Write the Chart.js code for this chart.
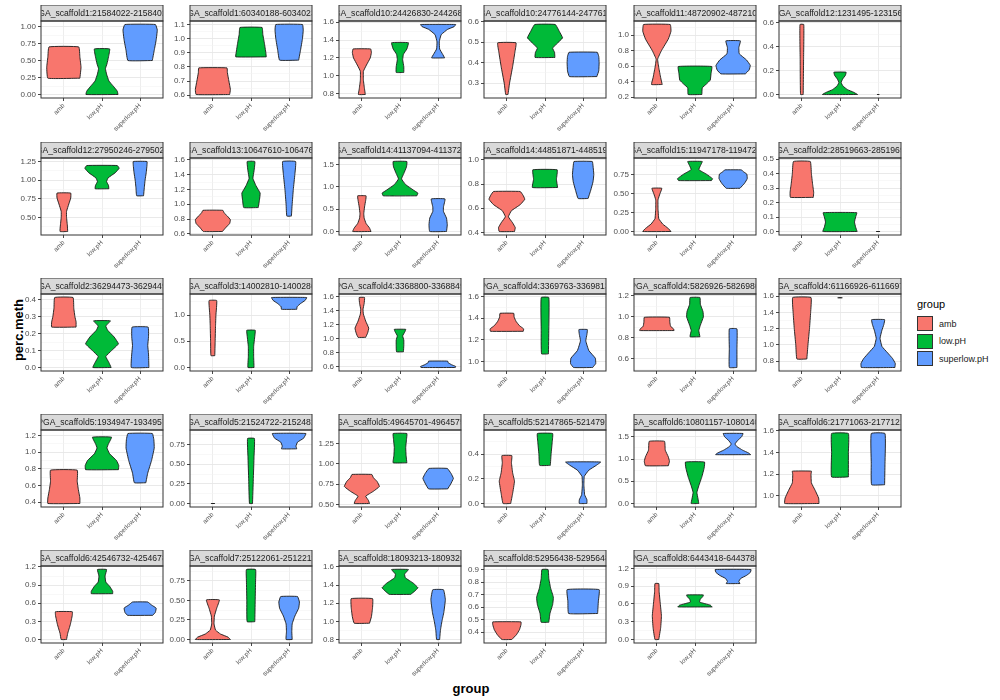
<!DOCTYPE html>
<html>
<head>
<meta charset="utf-8">
<script src="https://cdn.jsdelivr.net/npm/chart.js@4.4.1/dist/chart.umd.min.js"></script>
<style>
  body { margin: 0; background: #fff; font-family: "Liberation Sans", Arial, sans-serif; }
  #wrap { position: relative; width: 1000px; height: 700px; }
  canvas.panel { position: absolute; }
  .ytitle { position: absolute; left: 18px; top: 330px; transform: translate(-50%, -50%) rotate(-90deg); font-weight: bold; font-size: 13px; color: #000; white-space: nowrap; }
  .xtitle { position: absolute; left: 471px; top: 688px; transform: translate(-50%, -50%); font-weight: bold; font-size: 13px; color: #000; }
  .legend { position: absolute; left: 917px; top: 298px; font-size: 9px; color: #1a1a1a; }
  .legend .title { font-size: 11px; margin-bottom: 5px; color: #000; }
  .legend .row { display: flex; align-items: center; height: 17.5px; }
  .legend .key { width: 16px; height: 15px; border: 1px solid #333; box-sizing: border-box; margin-right: 6px; }
</style>
</head>
<body>
<div id="wrap">
  <div class="ytitle">perc.meth</div>
  <div class="xtitle">group</div>
  <div class="legend" id="legend"><div class="title">group</div></div>
</div>
<script>
const groups = ['amb', 'low.pH', 'superlow.pH'];

const panelTitles = [
    'PGA_scaffold1:21584022-21584024', 'PGA_scaffold1:60340188-60340238', 'PGA_scaffold10:24426830-24426880',
    'PGA_scaffold10:24776144-24776194', 'PGA_scaffold11:48720902-48721002', 'PGA_scaffold12:1231495-1231565',
    'PGA_scaffold12:27950246-27950296', 'PGA_scaffold13:10647610-10647660', 'PGA_scaffold14:41137094-41137200',
    'PGA_scaffold14:44851871-44851921', 'PGA_scaffold15:11947178-11947228', 'PGA_scaffold2:28519663-28519699',
    'PGA_scaffold2:36294473-36294490', 'PGA_scaffold3:14002810-14002860', 'PGA_scaffold4:3368800-3368849',
    'PGA_scaffold4:3369763-3369813', 'PGA_scaffold4:5826926-5826980', 'PGA_scaffold4:61166926-61166976',
    'PGA_scaffold5:1934947-1934957', 'PGA_scaffold5:21524722-21524822', 'PGA_scaffold5:49645701-49645751',
    'PGA_scaffold5:52147865-52147915', 'PGA_scaffold6:10801157-10801407', 'PGA_scaffold6:21771063-21771213',
    'PGA_scaffold6:42546732-42546782', 'PGA_scaffold7:25122061-25122111', 'PGA_scaffold8:18093213-18093263',
    'PGA_scaffold8:52956438-52956488', 'PGA_scaffold8:6443418-6443780'
];

const panelTicks = [
    ['0.00', '0.25', '0.50', '0.75', '1.00'], ['0.6', '0.7', '0.8', '0.9', '1.0', '1.1'], ['0.8', '1.0', '1.2', '1.4', '1.6'],
    ['0.3', '0.4', '0.5', '0.6'], ['0.2', '0.4', '0.6', '0.8', '1.0'], ['0.0', '0.2', '0.4', '0.6'],
    ['0.50', '0.75', '1.00', '1.25'], ['0.6', '0.8', '1.0', '1.2', '1.4', '1.6'], ['0.0', '0.5', '1.0', '1.5'],
    ['0.4', '0.6', '0.8', '1.0'], ['0.00', '0.25', '0.50', '0.75'], ['0.0', '0.1', '0.2', '0.3', '0.4', '0.5'],
    ['0.0', '0.1', '0.2', '0.3', '0.4'], ['0.0', '0.5', '1.0'], ['0.6', '0.8', '1.0', '1.2', '1.4', '1.6'],
    ['1.0', '1.2', '1.4', '1.6'], ['0.6', '0.8', '1.0', '1.2'], ['0.8', '1.0', '1.2', '1.4', '1.6'],
    ['0.4', '0.6', '0.8', '1.0', '1.2'], ['0.00', '0.25', '0.50', '0.75'], ['0.50', '0.75', '1.00', '1.25'],
    ['0.0', '0.2', '0.4'], ['0.0', '0.5', '1.0', '1.5'], ['1.0', '1.2', '1.4', '1.6'],
    ['0.0', '0.3', '0.6', '0.9', '1.2'], ['0.00', '0.25', '0.50', '0.75'], ['0.8', '1.0', '1.2', '1.4', '1.6'],
    ['0.4', '0.5', '0.6', '0.7', '0.8', '0.9'], ['0.0', '0.3', '0.6', '0.9', '1.2']
];

// violin outlines: [perc.meth, half width in category units], bottom to top
const ambProfiles = [
    [[0.24, 0.42], [0.4, 0.45], [0.55, 0.42], [0.70, 0.39]],
    [[0.605, 0.44], [0.64, 0.46], [0.7, 0.42], [0.76, 0.38], [0.793, 0.37]],
    [[0.79, 0.09], [0.85, 0.07], [0.95, 0.04], [1.05, 0.04], [1.12, 0.12], [1.2, 0.22], [1.26, 0.25], [1.30, 0.23]],
    [[0.245, 0.03], [0.3, 0.07], [0.38, 0.15], [0.45, 0.21], [0.496, 0.24]],
    [[0.363, 0.14], [0.45, 0.1], [0.58, 0.05], [0.69, 0.02], [0.8, 0.12], [0.95, 0.3], [1.05, 0.37], [1.137, 0.35]],
    [[0, 0.035], [0.3, 0.045], [0.587, 0.05]],
    [[0.31, 0.1], [0.4, 0.09], [0.5, 0.07], [0.58, 0.07], [0.68, 0.13], [0.76, 0.18], [0.826, 0.18]],
    [[0.632, 0.25], [0.68, 0.33], [0.74, 0.44], [0.79, 0.46], [0.84, 0.38], [0.88, 0.3], [0.918, 0.26]],
    [[0, 0.24], [0.08, 0.2], [0.18, 0.11], [0.3, 0.06], [0.4, 0.05], [0.55, 0.07], [0.7, 0.1], [0.8, 0.11]],
    [[0.408, 0.2], [0.44, 0.22], [0.48, 0.15], [0.53, 0.04], [0.58, 0.12], [0.63, 0.35], [0.675, 0.47], [0.71, 0.42], [0.739, 0.35]],
    [[0, 0.37], [0.04, 0.3], [0.1, 0.15], [0.17, 0.05], [0.3, 0.03], [0.42, 0.03], [0.5, 0.08], [0.573, 0.13]],
    [[0.236, 0.3], [0.27, 0.31], [0.33, 0.28], [0.4, 0.25], [0.484, 0.22]],
    [[0.239, 0.32], [0.27, 0.32], [0.3, 0.29], [0.35, 0.26], [0.414, 0.24]],
    [[0.226, 0.05], [0.5, 0.06], [0.8, 0.07], [1.0, 0.08], [1.277, 0.1]],
    [[1.019, 0.1], [1.08, 0.15], [1.15, 0.18], [1.25, 0.1], [1.35, 0.04], [1.42, 0.03], [1.5, 0.06], [1.586, 0.07]],
    [[1.278, 0.43], [1.3, 0.44], [1.33, 0.33], [1.37, 0.24], [1.41, 0.19], [1.444, 0.18]],
    [[0.87, 0.45], [0.885, 0.44], [0.91, 0.36], [0.95, 0.34], [0.996, 0.33]],
    [[0.825, 0.13], [1.0, 0.16], [1.2, 0.2], [1.4, 0.23], [1.583, 0.24]],
    [[0.384, 0.42], [0.45, 0.42], [0.55, 0.38], [0.65, 0.35], [0.784, 0.35]],
    [[0, 0.05], [0, 0.05]],
    [[0.51, 0.2], [0.55, 0.17], [0.6, 0.1], [0.66, 0.3], [0.72, 0.46], [0.78, 0.4], [0.83, 0.3], [0.868, 0.26]],
    [[0, 0.1], [0.08, 0.15], [0.18, 0.2], [0.25, 0.15], [0.33, 0.12], [0.388, 0.13]],
    [[0.85, 0.3], [0.95, 0.33], [1.05, 0.3], [1.2, 0.22], [1.4, 0.2]],
    [[0.93, 0.45], [0.98, 0.44], [1.05, 0.35], [1.12, 0.25], [1.2, 0.24], [1.228, 0.25]],
    [[0, 0.07], [0.1, 0.1], [0.25, 0.17], [0.4, 0.22], [0.46, 0.22]],
    [[0, 0.46], [0.03, 0.4], [0.07, 0.2], [0.12, 0.07], [0.2, 0.03], [0.3, 0.04], [0.4, 0.1], [0.507, 0.17]],
    [[0.979, 0.2], [1.05, 0.25], [1.15, 0.28], [1.25, 0.28]],
    [[0.342, 0.13], [0.38, 0.25], [0.42, 0.33], [0.46, 0.37], [0.483, 0.37]],
    [[0, 0.05], [0.2, 0.1], [0.4, 0.12], [0.6, 0.09], [0.8, 0.06], [0.943, 0.05]]
];

const lowProfiles = [
    [[0, 0.42], [0.05, 0.40], [0.12, 0.3], [0.2, 0.18], [0.3, 0.12], [0.38, 0.09], [0.45, 0.13], [0.55, 0.17], [0.67, 0.2]],
    [[0.871, 0.40], [0.9, 0.39], [0.97, 0.35], [1.03, 0.31], [1.079, 0.29]],
    [[1.037, 0.1], [1.1, 0.1], [1.18, 0.07], [1.24, 0.09], [1.3, 0.18], [1.37, 0.22]],
    [[0.425, 0.26], [0.45, 0.25], [0.47, 0.2], [0.49, 0.3], [0.52, 0.46], [0.55, 0.38], [0.585, 0.27]],
    [[0.234, 0.18], [0.32, 0.19], [0.37, 0.3], [0.42, 0.4], [0.5, 0.42], [0.595, 0.44]],
    [[0, 0.46], [0.02, 0.35], [0.04, 0.2], [0.07, 0.08], [0.1, 0.03], [0.13, 0.07], [0.16, 0.14], [0.187, 0.16]],
    [[0.884, 0.18], [0.93, 0.17], [0.98, 0.12], [1.03, 0.16], [1.1, 0.35], [1.16, 0.45], [1.196, 0.40]],
    [[0.955, 0.19], [1.05, 0.22], [1.15, 0.24], [1.25, 0.13], [1.35, 0.05], [1.45, 0.08], [1.577, 0.1]],
    [[0.8, 0.44], [0.86, 0.47], [0.93, 0.35], [1.05, 0.15], [1.18, 0.04], [1.3, 0.1], [1.45, 0.17], [1.57, 0.18]],
    [[0.772, 0.33], [0.84, 0.30], [0.918, 0.32]],
    [[0.675, 0.43], [0.7, 0.46], [0.76, 0.3], [0.82, 0.1], [0.87, 0.14], [0.928, 0.19]],
    [[0, 0.45], [0.03, 0.41], [0.065, 0.38], [0.1, 0.41], [0.13, 0.44]],
    [[0, 0.24], [0.03, 0.18], [0.065, 0.1], [0.1, 0.25], [0.14, 0.43], [0.18, 0.32], [0.22, 0.15], [0.245, 0.1], [0.276, 0.22]],
    [[0, 0.08], [0.2, 0.07], [0.4, 0.07], [0.6, 0.1], [0.71, 0.11]],
    [[0.814, 0.09], [0.9, 0.1], [0.98, 0.1], [1.04, 0.07], [1.1, 0.13], [1.133, 0.15]],
    [[1.07, 0.09], [1.3, 0.1], [1.59, 0.1]],
    [[0.811, 0.13], [0.87, 0.1], [0.92, 0.14], [1.0, 0.22], [1.05, 0.21], [1.12, 0.14], [1.184, 0.13]],
    [[1.58, 0.06], [1.58, 0.06]],
    [[0.79, 0.43], [0.84, 0.44], [0.9, 0.38], [0.98, 0.2], [1.05, 0.13], [1.1, 0.17], [1.18, 0.25]],
    [[0, 0.04], [0.3, 0.06], [0.6, 0.08], [0.827, 0.09]],
    [[1.012, 0.18], [1.1, 0.16], [1.2, 0.15], [1.3, 0.17], [1.373, 0.18]],
    [[0.309, 0.14], [0.4, 0.16], [0.5, 0.19], [0.567, 0.2]],
    [[0, 0.1], [0.1, 0.08], [0.25, 0.05], [0.4, 0.1], [0.6, 0.18], [0.8, 0.24], [0.934, 0.25]],
    [[1.175, 0.22], [1.4, 0.22], [1.575, 0.22]],
    [[0.758, 0.28], [0.8, 0.28], [0.88, 0.2], [0.95, 0.1], [1.05, 0.08], [1.158, 0.12]],
    [[0.228, 0.1], [0.5, 0.11], [0.75, 0.12], [0.896, 0.12]],
    [[1.297, 0.28], [1.33, 0.38], [1.37, 0.47], [1.42, 0.35], [1.48, 0.14], [1.52, 0.12], [1.571, 0.22]],
    [[0.48, 0.1], [0.55, 0.13], [0.62, 0.2], [0.68, 0.22], [0.75, 0.15], [0.83, 0.1], [0.902, 0.08]],
    [[0.549, 0.45], [0.58, 0.4], [0.63, 0.12], [0.68, 0.14], [0.72, 0.2], [0.751, 0.22]]
];

const superlowProfiles = [
    [[0.5, 0.32], [0.65, 0.37], [0.8, 0.42], [0.95, 0.45], [1.03, 0.40]],
    [[0.848, 0.25], [0.92, 0.30], [1.0, 0.35], [1.06, 0.37], [1.1, 0.35]],
    [[1.2, 0.17], [1.24, 0.12], [1.3, 0.04], [1.38, 0.03], [1.46, 0.08], [1.52, 0.25], [1.55, 0.42], [1.574, 0.46]],
    [[0.332, 0.36], [0.36, 0.41], [0.4, 0.42], [0.43, 0.41], [0.45, 0.37]],
    [[0.50, 0.32], [0.55, 0.42], [0.61, 0.45], [0.68, 0.35], [0.76, 0.16], [0.84, 0.15], [0.926, 0.19]],
    [[0, 0.03], [0, 0.03]],
    [[0.79, 0.09], [0.9, 0.11], [1.0, 0.13], [1.1, 0.16], [1.2, 0.18], [1.25, 0.18]],
    [[0.84, 0.06], [1.0, 0.08], [1.2, 0.11], [1.4, 0.15], [1.577, 0.17]],
    [[0, 0.22], [0.15, 0.24], [0.3, 0.22], [0.45, 0.14], [0.55, 0.14], [0.73, 0.18]],
    [[0.681, 0.13], [0.75, 0.2], [0.82, 0.26], [0.88, 0.28], [0.95, 0.26], [0.987, 0.24]],
    [[0.573, 0.18], [0.64, 0.3], [0.7, 0.37], [0.76, 0.36], [0.8, 0.25], [0.817, 0.22]],
    [[0, 0.05], [0, 0.05]],
    [[0, 0.23], [0.08, 0.22], [0.13, 0.2], [0.18, 0.22], [0.239, 0.21]],
    [[1.11, 0.2], [1.16, 0.21], [1.22, 0.3], [1.28, 0.42], [1.335, 0.46]],
    [[0.59, 0.45], [0.605, 0.46], [0.63, 0.35], [0.66, 0.26], [0.681, 0.25]],
    [[0.944, 0.25], [0.98, 0.33], [1.03, 0.32], [1.1, 0.15], [1.19, 0.07], [1.25, 0.1], [1.294, 0.11]],
    [[0.519, 0.1], [0.7, 0.1], [0.886, 0.1]],
    [[0.72, 0.44], [0.77, 0.45], [0.83, 0.38], [0.9, 0.25], [0.98, 0.1], [1.08, 0.05], [1.18, 0.1], [1.25, 0.15], [1.31, 0.17]],
    [[0.633, 0.15], [0.75, 0.2], [0.9, 0.3], [1.05, 0.37], [1.15, 0.36], [1.224, 0.32]],
    [[0.695, 0.2], [0.73, 0.18], [0.78, 0.22], [0.83, 0.38], [0.89, 0.44]],
    [[0.69, 0.25], [0.75, 0.33], [0.82, 0.4], [0.88, 0.34], [0.942, 0.24]],
    [[0, 0.1], [0.03, 0.1], [0.07, 0.04], [0.15, 0.02], [0.22, 0.03], [0.27, 0.15], [0.31, 0.35], [0.336, 0.46]],
    [[1.1, 0.46], [1.14, 0.4], [1.2, 0.25], [1.28, 0.1], [1.34, 0.05], [1.42, 0.12], [1.5, 0.22], [1.576, 0.26]],
    [[1.103, 0.17], [1.3, 0.18], [1.575, 0.18]],
    [[0.4, 0.33], [0.45, 0.4], [0.52, 0.42], [0.57, 0.3], [0.62, 0.2]],
    [[0, 0.08], [0.1, 0.07], [0.2, 0.08], [0.3, 0.15], [0.4, 0.25], [0.48, 0.27], [0.55, 0.22]],
    [[0.8, 0.04], [0.9, 0.06], [1.0, 0.1], [1.1, 0.15], [1.24, 0.19], [1.348, 0.14]],
    [[0.55, 0.38], [0.65, 0.4], [0.741, 0.42]],
    [[0.943, 0.18], [0.98, 0.15], [1.03, 0.2], [1.08, 0.35], [1.13, 0.45], [1.18, 0.47]]
];

const groupColors = ['#F8766D', '#00BA38', '#619CFF'];
const colLeft = [41, 190, 339, 484, 634, 779];
const rowTop = [5, 142, 278, 414, 550];
const PANEL_W = 122, PANEL_H = 77, STRIP_H = 16, YAXIS_W = 40, XAXIS_H = 45;
const FONT = '"Liberation Sans", Arial, sans-serif';

// outline of one violin as a closed polygon around its category
function violinPoints(profile, center) {
    const right = profile.map(([v, w]) => ({ x: center + w, y: v }));
    const left = profile.slice().reverse().map(([v, w]) => ({ x: center - w, y: v }));
    const pts = right.concat(left);
    pts.push(pts[0]);
    return pts;
}

const panelFrame = {
    id: 'panelFrame',
    afterDraw(chart, args, opts) {
        const { ctx, chartArea: a } = chart;
        ctx.save();
        // strip
        ctx.fillStyle = '#D9D9D9';
        ctx.fillRect(a.left, a.top - STRIP_H, a.right - a.left, STRIP_H);
        ctx.strokeStyle = '#333333';
        ctx.lineWidth = 1;
        ctx.strokeRect(a.left, a.top - STRIP_H, a.right - a.left, STRIP_H);
        ctx.save();
        ctx.beginPath();
        ctx.rect(a.left + 0.5, a.top - STRIP_H, a.right - a.left - 1, STRIP_H);
        ctx.clip();
        ctx.fillStyle = '#1A1A1A';
        ctx.font = '8.6px ' + FONT;
        ctx.textAlign = 'center';
        ctx.textBaseline = 'middle';
        ctx.fillText(opts.title, (a.left + a.right) / 2, a.top - STRIP_H / 2 + 0.5);
        ctx.restore();
        // panel border
        ctx.strokeStyle = '#333333';
        ctx.strokeRect(a.left, a.top, a.right - a.left, a.bottom - a.top);
        ctx.restore();
    }
};

const wrap = document.getElementById('wrap');

panelTitles.forEach((title, i) => {
    const row = Math.floor(i / 6), col = i % 6;
    const canvas = document.createElement('canvas');
    canvas.className = 'panel';
    canvas.width = YAXIS_W + PANEL_W + 2;
    canvas.height = STRIP_H + PANEL_H + XAXIS_H;
    canvas.style.left = (colLeft[col] - YAXIS_W) + 'px';
    canvas.style.top = rowTop[row] + 'px';
    wrap.appendChild(canvas);

    const profiles = [ambProfiles[i], lowProfiles[i], superlowProfiles[i]];
    let lo = Infinity, hi = -Infinity;
    profiles.forEach(p => p.forEach(([v]) => { lo = Math.min(lo, v); hi = Math.max(hi, v); }));
    const pad = (hi - lo) * 0.05;
    const yMin = lo - pad, yMax = hi + pad;

    // major ticks from the labels, minor ones halfway between
    const majors = panelTicks[i].map(Number);
    const step = majors[1] - majors[0];
    const yTicks = [];
    const cands = [{ value: majors[0] - step / 2, label: '', minor: true }];
    majors.forEach((m, k) => {
        cands.push({ value: m, label: panelTicks[i][k], minor: false });
        cands.push({ value: m + step / 2, label: '', minor: true });
    });
    cands.forEach(t => { if (t.value >= yMin - 1e-9 && t.value <= yMax + 1e-9) yTicks.push(t); });

    new Chart(canvas, {
        type: 'line',
        data: {
            datasets: profiles.map((p, g) => ({
                label: groups[g],
                data: violinPoints(p, g + 1),
                borderColor: '#1A1A1A',
                borderWidth: 0.9,
                backgroundColor: groupColors[g],
                fill: 'shape',
                pointRadius: 0,
                pointHoverRadius: 0,
                tension: 0.1
            }))
        },
        options: {
            responsive: false,
            animation: false,
            devicePixelRatio: 1,
            events: [],
            layout: { padding: { top: STRIP_H, right: 2, left: 0, bottom: 0 } },
            plugins: {
                legend: { display: false },
                tooltip: { enabled: false },
                panelFrame: { title }
            },
            scales: {
                x: {
                    type: 'linear',
                    min: 0.4,
                    max: 3.6,
                    afterBuildTicks: s => { s.ticks = [1, 2, 3].map(v => ({ value: v })); },
                    afterFit: s => { s.height = XAXIS_H; },
                    border: { display: false },
                    grid: { color: '#EBEBEB', lineWidth: 0.9, tickColor: '#333333', tickLength: 3 },
                    ticks: {
                        autoSkip: false,
                        minRotation: 45,
                        maxRotation: 45,
                        padding: 1,
                        color: '#4D4D4D',
                        font: { family: FONT, size: 6.5 },
                        callback: v => groups[v - 1]
                    }
                },
                y: {
                    type: 'linear',
                    min: yMin,
                    max: yMax,
                    afterBuildTicks: s => { s.ticks = yTicks.map(t => ({ value: t.value })); },
                    afterFit: s => { s.width = YAXIS_W; },
                    border: { display: false },
                    grid: {
                        color: c => (yTicks[c.index] && yTicks[c.index].minor) ? '#F3F3F3' : '#E6E6E6',
                        lineWidth: c => (yTicks[c.index] && yTicks[c.index].minor) ? 0.6 : 0.9,
                        tickColor: c => (yTicks[c.index] && yTicks[c.index].minor) ? 'rgba(0,0,0,0)' : '#333333',
                        tickLength: 3
                    },
                    ticks: {
                        autoSkip: false,
                        padding: 2,
                        color: '#4D4D4D',
                        font: { family: FONT, size: 8 },
                        callback: (v, idx) => yTicks[idx] ? yTicks[idx].label : ''
                    }
                }
            }
        },
        plugins: [panelFrame]
    });
});

// legend
const legend = document.getElementById('legend');
groups.forEach((g, k) => {
    const row = document.createElement('div');
    row.className = 'row';
    row.innerHTML = '<div class="key" style="background:' + groupColors[k] + '"></div><span>' + g + '</span>';
    legend.appendChild(row);
});
</script>
</body>
</html>
